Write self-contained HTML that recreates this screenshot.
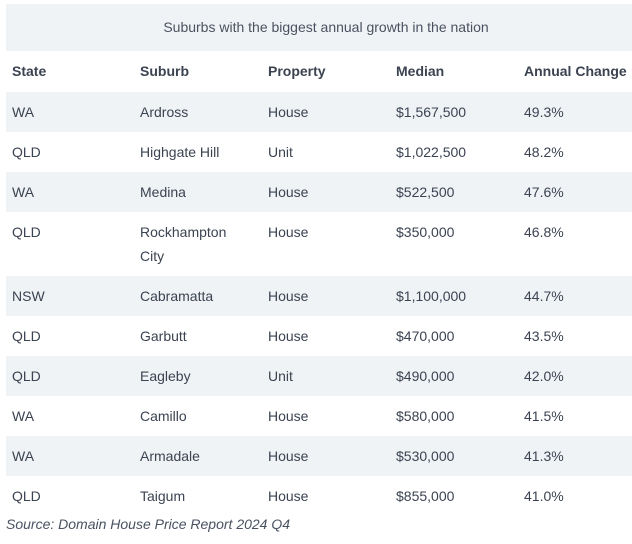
<!DOCTYPE html>
<html><head><meta charset="utf-8"><style>
body{margin:0;width:632px;height:544px;background:#fff;font-family:"Liberation Sans",sans-serif;color:#3b4351;font-size:14px;overflow:hidden}
table{position:absolute;left:6px;top:4px;width:626px;border-collapse:collapse;table-layout:fixed}
caption{background:#f0f3f6;height:47px;line-height:47px;text-align:center;font-size:14px;color:#4a5261}
td,th{padding:8px 6px;line-height:24px;vertical-align:top;text-align:left;width:116px}
th{font-weight:bold;height:25px;padding-top:8px}
tbody tr:nth-child(odd){background:#f0f3f6}
.src{position:absolute;left:6px;top:514px;font-style:italic;font-size:14px;line-height:20px;color:#4a5261}
</style></head><body>
<table>
<caption>Suburbs with the biggest annual growth in the nation</caption>
<thead><tr><th>State</th><th>Suburb</th><th>Property</th><th>Median</th><th>Annual Change</th></tr></thead>
<tbody>
<tr><td>WA</td><td>Ardross</td><td>House</td><td>$1,567,500</td><td>49.3%</td></tr>
<tr><td>QLD</td><td>Highgate Hill</td><td>Unit</td><td>$1,022,500</td><td>48.2%</td></tr>
<tr><td>WA</td><td>Medina</td><td>House</td><td>$522,500</td><td>47.6%</td></tr>
<tr><td>QLD</td><td>Rockhampton<br>City</td><td>House</td><td>$350,000</td><td>46.8%</td></tr>
<tr><td>NSW</td><td>Cabramatta</td><td>House</td><td>$1,100,000</td><td>44.7%</td></tr>
<tr><td>QLD</td><td>Garbutt</td><td>House</td><td>$470,000</td><td>43.5%</td></tr>
<tr><td>QLD</td><td>Eagleby</td><td>Unit</td><td>$490,000</td><td>42.0%</td></tr>
<tr><td>WA</td><td>Camillo</td><td>House</td><td>$580,000</td><td>41.5%</td></tr>
<tr><td>WA</td><td>Armadale</td><td>House</td><td>$530,000</td><td>41.3%</td></tr>
<tr><td>QLD</td><td>Taigum</td><td>House</td><td>$855,000</td><td>41.0%</td></tr>
</tbody></table>
<div class="src">Source: Domain House Price Report 2024 Q4</div>
</body></html>
